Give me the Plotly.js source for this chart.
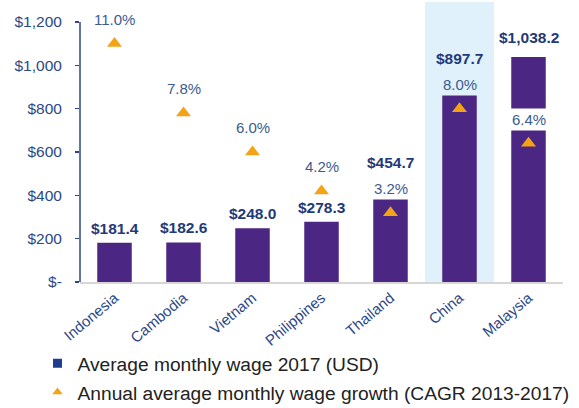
<!DOCTYPE html>
<html>
<head>
<meta charset="utf-8">
<script src="https://cdn.plot.ly/plotly-3.0.1.min.js"></script>
<style>html,body{margin:0;padding:0;background:#fff;}#chart{width:579px;height:408px;}</style>
</head>
<body>
<div id="chart"></div>
<script>
// ---- data ----
const countries = ["Indonesia", "Cambodia", "Vietnam", "Philippines", "Thailand", "China", "Malaysia"];
const wage2017 = [181.4, 182.6, 248.0, 278.3, 454.7, 897.7, 1038.2];
const wageGrowth = [11.0, 7.8, 6.0, 4.2, 3.2, 8.0, 6.4];
const yTickValues = [0, 200, 400, 600, 800, 1000, 1200];
const yTickLabels = ["$-", "$200", "$400", "$600", "$800", "$1,000", "$1,200"];
const highlighted = "China";
const seriesNames = ["Average monthly wage 2017 (USD)", "Annual average monthly wage growth (CAGR 2013-2017)"];

// ---- styling ----
const FONT = 'Arial, "Liberation Sans", sans-serif';
const NAVY = '#2b4785';
const BAR = '#4b2683';
const ORANGE = '#f4a316';
const BAND = '#e0f1fb';
const Y_MAX = 1292;
const Y2_MAX = 12.92;
const ratio = Y_MAX / Y2_MAX;

const hi = countries.indexOf(highlighted);

const traces = [
  {
    type: 'bar', x: countries, y: wage2017, width: 0.5,
    marker: {color: BAR}, showlegend: false, hoverinfo: 'skip'
  },
  {
    type: 'scatter', mode: 'markers', x: countries, y: wageGrowth, yaxis: 'y2',
    marker: {symbol: 'triangle-up', size: 13, color: ORANGE},
    showlegend: false, hoverinfo: 'skip'
  },
  {
    type: 'scatter', mode: 'markers', x: [null], y: [null], name: seriesNames[0],
    marker: {symbol: 'square', size: 9, color: '#1f3c8f'}, legendgroup: 'a', hoverinfo: 'skip'
  },
  {
    type: 'scatter', mode: 'markers', x: [null], y: [null], name: seriesNames[1],
    marker: {symbol: 'triangle-up', size: 9, color: ORANGE}, legendgroup: 'b', hoverinfo: 'skip'
  }
];

const annotations = [];
countries.forEach((c, i) => {
  const pctY = wageGrowth[i] * ratio;
  annotations.push({
    x: c, y: wageGrowth[i], xref: 'x', yref: 'y2',
    text: wageGrowth[i].toFixed(1) + '%', showarrow: false,
    yshift: 24, yanchor: 'middle',
    font: {family: FONT, size: 15, color: '#3b5b8f'},
    bgcolor: i === hi ? BAND : '#ffffff', borderpad: 2
  });
  const stacked = pctY < wage2017[i];
  const labelY = stacked ? Math.max(wage2017[i], pctY + 140) : wage2017[i];
  annotations.push({
    x: c, y: labelY, xref: 'x', yref: 'y',
    text: '<b>$' + wage2017[i].toLocaleString('en-US', {minimumFractionDigits: 1, maximumFractionDigits: 1}) + '</b>',
    showarrow: false, yanchor: 'bottom', yshift: stacked ? 9 : 4,
    font: {family: FONT, size: 15.5, color: '#1f3a78'}
  });
});

const layout = {
  width: 579, height: 408,
  margin: {l: 80, r: 16, t: 2, b: 126, autoexpand: false},
  paper_bgcolor: '#ffffff', plot_bgcolor: '#ffffff',
  font: {family: FONT},
  bargap: 0.5,
  xaxis: {
    type: 'category', range: [-0.5, countries.length - 0.5],
    showline: true, linecolor: '#d6d6d6', linewidth: 1.5,
    ticks: '', tickangle: -40,
    tickfont: {family: FONT, size: 15, color: NAVY},
    showgrid: false, zeroline: false, fixedrange: true
  },
  yaxis: {
    range: [0, Y_MAX], tickvals: yTickValues, ticktext: yTickLabels,
    ticks: 'outside', ticklen: 4, tickwidth: 1.5, tickcolor: NAVY,
    ticklabelstandoff: 10,
    tickfont: {family: FONT, size: 15.5, color: NAVY},
    showline: false, showgrid: false, zeroline: false, fixedrange: true
  },
  yaxis2: {
    overlaying: 'y', side: 'right', range: [0, Y2_MAX], visible: false, fixedrange: true
  },
  shapes: [
    {type: 'rect', xref: 'x', yref: 'y', x0: hi - 0.5, x1: hi + 0.5, y0: 0, y1: Y_MAX,
     fillcolor: BAND, line: {width: 0}, layer: 'below'},
    {type: 'line', xref: 'paper', yref: 'y', x0: 0, x1: 0, y0: 0, y1: yTickValues[yTickValues.length - 1],
     line: {color: NAVY, width: 1.5}}
  ],
  annotations: annotations,
  showlegend: true,
  legend: {
    orientation: 'v', x: -0.088, xanchor: 'left', y: -0.222, yanchor: 'top',
    font: {family: FONT, size: 19.2, color: '#222222'},
    traceorder: 'grouped', tracegroupgap: 1, bgcolor: 'rgba(0,0,0,0)'
  }
};

Plotly.newPlot('chart', traces, layout, {displayModeBar: false, staticPlot: true});
</script>
</body>
</html>
